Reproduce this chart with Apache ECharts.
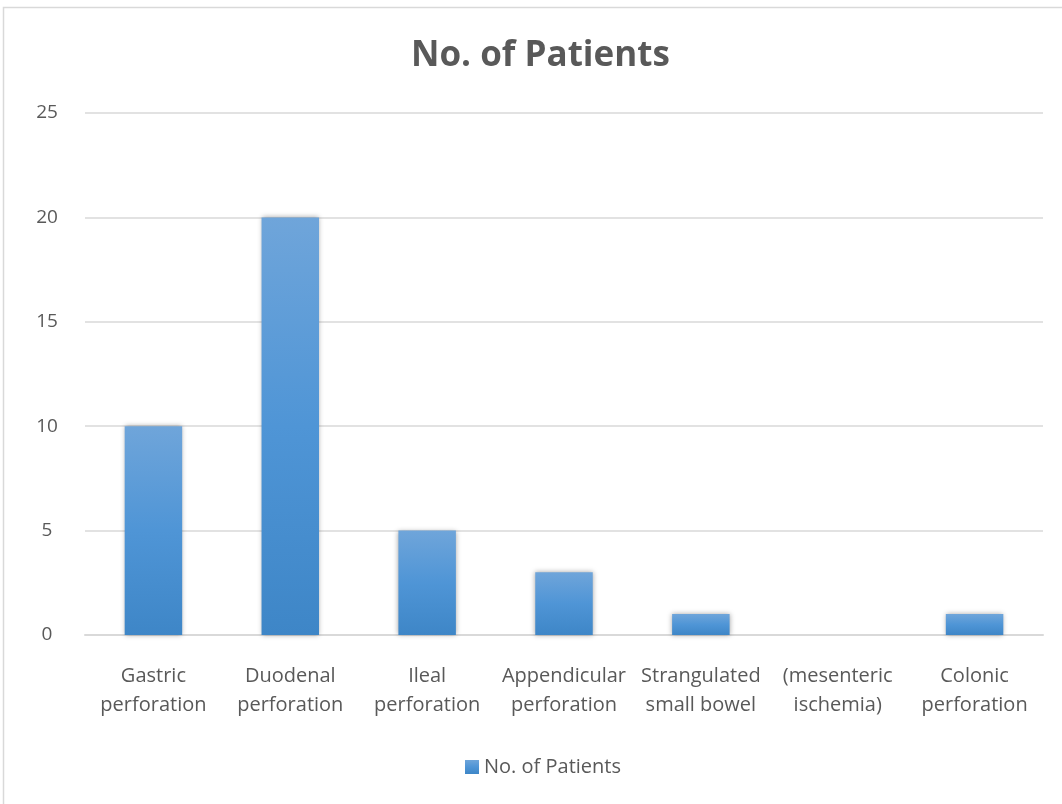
<!DOCTYPE html>
<html>
<head>
<meta charset="utf-8">
<script src="https://cdn.jsdelivr.net/npm/echarts@6/dist/echarts.min.js"></script>
<style>
  html, body { margin: 0; padding: 0; background: #fff; }
  #chart { width: 1062px; height: 804px; }
</style>
</head>
<body>
<div id="chart"></div>
<script>
// Perforation / obstruction site categories and patient counts
const categories = [
  'Gastric\nperforation',
  'Duodenal\nperforation',
  'Ileal\nperforation',
  'Appendicular\nperforation',
  'Strangulated\nsmall bowel',
  '(mesenteric\nischemia)',
  'Colonic\nperforation'
];
const patients = [10, 20, 5, 3, 1, 0, 1];
const yTicks = { min: 0, max: 25, interval: 5 };
const seriesName = 'No. of Patients';

const font = 'Open Sans, Liberation Sans, sans-serif';
const chart = echarts.init(document.getElementById('chart'));

const barFill = new echarts.graphic.LinearGradient(0, 0, 0, 1, [
  { offset: 0, color: '#6fa5da' },
  { offset: 0.5, color: '#4f95d6' },
  { offset: 1, color: '#3e86c7' }
]);

chart.setOption({
  backgroundColor: '#ffffff',
  animation: false,
  graphic: [{
    type: 'rect',
    shape: { x: 3.5, y: 7.5, width: 1070, height: 800 },
    style: { fill: 'none', stroke: '#d9d9d9', lineWidth: 1.5 },
    silent: true
  }],
  title: {
    text: 'No. of Patients',
    left: 406,
    top: 34,
    textStyle: { fontFamily: font, fontSize: 35, fontWeight: 'bold', color: '#595959' }
  },
  legend: {
    bottom: 22,
    left: 460,
    itemWidth: 14,
    itemHeight: 14,
    itemGap: 6,
    icon: 'rect',
    textStyle: { fontFamily: font, fontSize: 20, color: '#595959' },
    data: [seriesName]
  },
  grid: { left: 85, right: 19, top: 113, bottom: 169, containLabel: false },
  xAxis: {
    type: 'category',
    data: categories,
    axisLine: { lineStyle: { color: '#d9d9d9', width: 2 } },
    axisTick: { show: false },
    axisLabel: {
      interval: 0,
      margin: 27,
      fontFamily: font,
      fontSize: 20,
      lineHeight: 29,
      color: '#595959'
    }
  },
  yAxis: {
    type: 'value',
    min: yTicks.min,
    max: yTicks.max,
    interval: yTicks.interval,
    axisLine: { show: false },
    axisTick: { show: false },
    axisLabel: {
      margin: 38,
      align: 'center',
      fontFamily: font,
      fontSize: 19,
      color: '#595959'
    },
    splitLine: { lineStyle: { color: '#d9d9d9', width: 1.5 } }
  },
  series: [{
    name: seriesName,
    type: 'bar',
    data: patients,
    barWidth: '42%',
    itemStyle: {
      color: barFill,
      shadowBlur: 5,
      shadowColor: 'rgba(0,0,0,0.35)',
      shadowOffsetX: 0,
      shadowOffsetY: 0
    }
  }]
});
</script>
</body>
</html>
